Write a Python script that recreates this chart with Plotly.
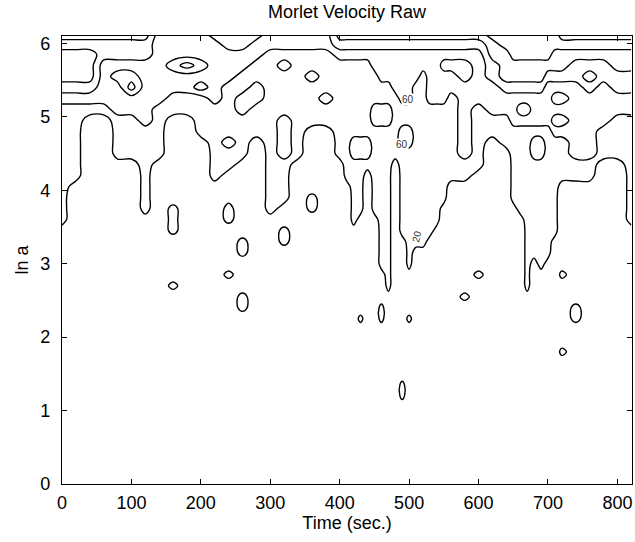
import plotly.graph_objects as go

# ---- data (wavelet magnitude, in tens) ----
time_grid = [0, 20, 40, 60, 80, 100, 120, 140, 160, 180, 200, 220, 240, 260,
             280, 300, 320, 340, 360, 380, 400, 410, 420, 430, 440, 450, 460,
             470, 480, 490, 500, 510, 520, 530, 540, 550, 560, 580, 600, 620,
             640, 650, 660, 670, 680, 690, 700, 710, 720, 740, 760, 780, 800, 820]
ln_a_rows = [6.12, 5.98, 5.85, 5.70, 5.55, 5.40, 5.25, 5.10, 4.95, 4.80, 4.65,
             4.50, 4.35, 4.20, 4.05, 3.90, 3.75, 3.60, 3.45, 3.30, 3.15, 3.00,
             2.85, 2.70, 2.55, 2.40, 2.25, 2.10, 1.95, 1.80, 1.65, 1.50, 1.35,
             1.20, 1.05, 0.90, 0.75, 0.60, 0.45, 0.30, 0.15, 0.00]
# one string per time column, top (ln a = 6.12) to bottom (ln a = 0); hex digit = value / 10
power_columns = [
    "979997 533333 333333 100000 000000 000000 000000",  # 0
    "979997 533333 331000 000000 000000 000000 000000",  # 20
    "979997 531000 000000 000000 000000 000000 000000",  # 40
    "977555 531000 000000 000000 000000 000000 000000",  # 60
    "977575 553333 100000 000000 000000 000000 000000",  # 80
    "977579 553333 100000 000000 000000 000000 000000",  # 100
    "977555 555333 333331 000000 000000 000000 000000",  # 120
    "555555 533333 100000 000000 000000 000000 000000",  # 140
    "555755 331000 000033 300003 000000 000000 000000",  # 160
    "555955 331000 000000 000000 000000 000000 000000",  # 180
    "555757 333310 000000 000000 000000 000000 000000",  # 200
    "755555 533333 331000 000000 000000 000000 000000",  # 220
    "775553 333353 310133 000030 000000 000000 000000",  # 240
    "775533 553333 100000 033000 330000 000000 000000",  # 260
    "755335 533310 000000 000000 000000 000000 000000",  # 280
    "553333 333333 333331 000000 000000 000000 000000",  # 300
    "553533 335555 333310 330000 000000 000000 000000",  # 320
    "553333 333333 100000 000000 000000 000000 000000",  # 340
    "553353 333100 000330 000000 000000 000000 000000",  # 360
    "553333 533100 000000 000000 000000 000000 000000",  # 380
    "975333 333333 100000 000000 000000 000000 000000",  # 400
    "975333 333333 331000 000000 000000 000000 000000",  # 410
    "975333 333355 333333 100000 000000 000000 000000",  # 420
    "975333 333355 333331 000000 003000 000000 000000",  # 430
    "975333 333355 310000 000000 000000 000000 000000",  # 440
    "975533 355333 333331 000000 000000 000000 000000",  # 450
    "975553 355333 333333 333310 033000 000000 000000",  # 460
    "975553 355333 333333 333333 100000 000000 000000",  # 470
    "975555 333333 100000 000000 000000 000000 000000",  # 480
    "975555 533553 333333 310000 000000 003300 000000",  # 490
    "975555 533553 333333 333310 003000 000000 000000",  # 500
    "975553 333333 333333 331000 000000 000000 000000",  # 510
    "975533 333333 333333 331000 000000 000000 000000",  # 520
    "975555 533333 333333 310000 000000 000000 000000",  # 530
    "975555 533333 333333 100000 000000 000000 000000",  # 540
    "975755 533333 333310 000000 000000 000000 000000",  # 550
    "975755 333333 331000 000000 000000 000000 000000",  # 560
    "975775 555555 331000 000000 300000 000000 000000",  # 580
    "975555 533333 310000 000030 000000 000000 000000",  # 600
    "B99775 553310 000000 000000 000000 000000 000000",  # 620
    "BB9997 553331 000000 000000 000000 000000 000000",  # 640
    "BBB997 555333 333310 000000 000000 000000 000000",  # 650
    "BBB997 575333 333331 000000 000000 000000 000000",  # 660
    "BBB997 575333 333333 333333 100000 000000 000000",  # 670
    "BBB997 555355 333333 333100 000000 000000 000000",  # 680
    "BBB997 555355 333333 333310 000000 000000 000000",  # 690
    "BBB975 555333 333333 333100 000000 000000 000000",  # 700
    "BB9975 757533 333333 310000 000000 000000 000000",  # 710
    "DB9975 757533 331000 000030 000003 000000 000000",  # 720
    "DB9775 555555 331000 000000 033000 000000 000000",  # 740
    "DB9797 555555 331000 000000 000000 000000 000000",  # 760
    "DB9775 555333 100000 000000 000000 000000 000000",  # 780
    "DB9977 553333 100000 000000 000000 000000 000000",  # 800
    "DB9977 553333 333333 100000 000000 000000 000000",  # 820
]
contour_levels = dict(start=20, end=120, size=20)
x_ticks = [0, 100, 200, 300, 400, 500, 600, 700, 800]
y_ticks = [0, 1, 2, 3, 4, 5, 6]
contour_labels = [("60", 498, 5.24, 0), ("60", 489, 4.62, 0), ("20", 511, 3.37, -75)]

# ---- build the grid table ----
cols = [c.replace(" ", "") for c in power_columns]
z_top_down = [[int(col[r], 16) * 10 for col in cols] for r in range(len(ln_a_rows))]
y_vals = ln_a_rows[::-1]
z_vals = z_top_down[::-1]

FONT = "Liberation Sans, Arial, Helvetica, sans-serif"

fig = go.Figure(go.Contour(
    x=time_grid, y=y_vals, z=z_vals,
    contours=dict(coloring="lines", showlabels=False, **contour_levels),
    colorscale=[[0, "black"], [1, "black"]],
    showscale=False,
    line=dict(width=1.4, smoothing=1.0),
    hoverinfo="skip",
))

for txt, xv, yv, ang in contour_labels:
    fig.add_annotation(x=xv, y=yv, text=txt, showarrow=False, textangle=ang,
                       font=dict(family=FONT, size=10, color="#333"),
                       bgcolor="white", borderpad=0)

axis_common = dict(showline=True, linecolor="black", linewidth=1.2, mirror="ticks",
                   ticks="inside", ticklen=5, tickcolor="black", showgrid=False,
                   zeroline=False, tickfont=dict(family=FONT, size=18, color="black"))

fig.update_layout(
    width=635, height=542,
    margin=dict(l=62, r=3, t=36, b=58),
    paper_bgcolor="white", plot_bgcolor="white",
    title=dict(text="Morlet Velocity Raw", x=0.5, xref="paper", xanchor="center",
               y=1 - 12 / 542, yref="container", yanchor="middle",
               font=dict(family=FONT, size=18, color="black")),
    xaxis=dict(range=[0, 821], tickvals=x_ticks, ticklabelstandoff=2,
               title=dict(text="Time (sec.)", font=dict(family=FONT, size=18, color="black"), standoff=3),
               **axis_common),
    yaxis=dict(range=[0, 6.1], tickvals=y_ticks, ticklabelstandoff=7,
               title=dict(text="ln a", font=dict(family=FONT, size=18, color="black"), standoff=6),
               **axis_common),
)

fig.write_html("out.html")
